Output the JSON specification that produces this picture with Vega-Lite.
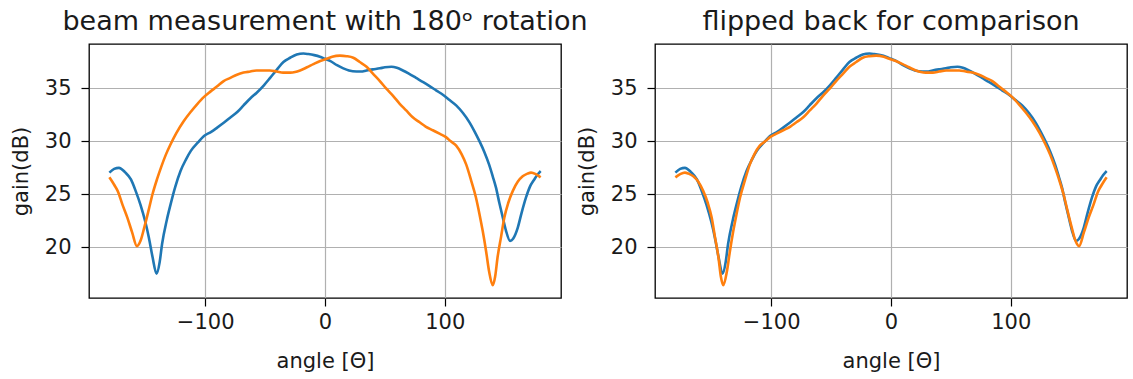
{
  "$schema": "https://vega.github.io/schema/vega-lite/v6.json",
  "background": "white",
  "padding": {"left": 9, "top": 7, "right": 0, "bottom": 0},
  "bounds": "flush",
  "spacing": 94,
  "config": {
    "font": "DejaVu Sans",
    "view": {"stroke": "black", "strokeWidth": 1.3},
    "axis": {
      "domain": false, "grid": true, "gridColor": "#b0b0b0", "gridWidth": 1.2,
      "tickColor": "black", "tickSize": 8, "tickWidth": 1.2,
      "labelFont": "DejaVu Sans", "labelFontSize": 21, "labelColor": "#1a1a1a",
      "titleFont": "DejaVu Sans", "titleFontSize": 21, "titleFontWeight": "normal", "titleColor": "#1a1a1a"
    },
    "axisX": {"labelPadding": 5, "titlePadding": 18},
    "axisY": {"labelPadding": 10, "titlePadding": 13},
    "title": {"font": "DejaVu Sans", "fontSize": 27, "fontWeight": "normal", "color": "#1a1a1a", "offset": 8},
    "line": {"strokeWidth": 2.6, "interpolate": "monotone"}
  },
  "datasets": {
    "blue": [
      {"x":-180,"y":27.05},{"x":-176,"y":27.4},{"x":-172,"y":27.5},{"x":-167,"y":27.1},{"x":-162,"y":26.4},{"x":-158,"y":25.3},{"x":-154,"y":24.0},{"x":-150,"y":22.4},{"x":-147,"y":20.9},{"x":-144,"y":19.1},{"x":-140.6,"y":17.5},{"x":-138,"y":18.6},{"x":-136,"y":20.3},{"x":-132,"y":22.6},{"x":-129,"y":24.0},{"x":-125,"y":25.7},{"x":-120.6,"y":27.2},{"x":-116,"y":28.3},{"x":-112,"y":29.1},{"x":-106,"y":29.9},{"x":-101,"y":30.5},{"x":-95,"y":30.9},{"x":-90,"y":31.3},{"x":-84,"y":31.8},{"x":-79,"y":32.25},{"x":-73,"y":32.8},{"x":-68,"y":33.4},{"x":-62,"y":34.1},{"x":-57,"y":34.6},{"x":-51,"y":35.3},{"x":-45.8,"y":36.0},{"x":-40,"y":36.8},{"x":-34.7,"y":37.5},{"x":-29,"y":37.9},{"x":-23.6,"y":38.2},{"x":-18,"y":38.3},{"x":-13.9,"y":38.25},{"x":-9,"y":38.15},{"x":-4.2,"y":38.0},{"x":0,"y":37.8},{"x":4.2,"y":37.6},{"x":10,"y":37.2},{"x":15.3,"y":36.9},{"x":20,"y":36.7},{"x":26.3,"y":36.6},{"x":30,"y":36.6},{"x":34.7,"y":36.7},{"x":40,"y":36.8},{"x":45.8,"y":36.9},{"x":50,"y":37.0},{"x":55.5,"y":37.05},{"x":60,"y":36.95},{"x":65,"y":36.7},{"x":70,"y":36.4},{"x":76,"y":36.0},{"x":82,"y":35.6},{"x":87,"y":35.25},{"x":93,"y":34.8},{"x":98.4,"y":34.4},{"x":104,"y":33.9},{"x":109.5,"y":33.4},{"x":115,"y":32.7},{"x":120.6,"y":31.8},{"x":125,"y":30.9},{"x":129,"y":30.0},{"x":133,"y":29.0},{"x":137,"y":27.8},{"x":140,"y":26.7},{"x":142.8,"y":25.6},{"x":145.5,"y":24.2},{"x":148.4,"y":22.8},{"x":151,"y":21.6},{"x":154.5,"y":20.6},{"x":157,"y":20.8},{"x":160.8,"y":21.8},{"x":164,"y":23.2},{"x":167.8,"y":24.7},{"x":171,"y":25.7},{"x":174.7,"y":26.4},{"x":177,"y":26.8},{"x":180,"y":27.2}
    ],
    "orange": [
      {"x":-180,"y":26.6},{"x":-176,"y":25.9},{"x":-173,"y":25.3},{"x":-169,"y":24.0},{"x":-165,"y":22.8},{"x":-161,"y":21.4},{"x":-157,"y":20.1},{"x":-154,"y":20.6},{"x":-151,"y":21.8},{"x":-147,"y":23.6},{"x":-144,"y":25.0},{"x":-140,"y":26.5},{"x":-137,"y":27.5},{"x":-133,"y":28.7},{"x":-129,"y":29.7},{"x":-124,"y":30.8},{"x":-118,"y":31.9},{"x":-112,"y":32.8},{"x":-106.8,"y":33.5},{"x":-101,"y":34.2},{"x":-95.7,"y":34.7},{"x":-90,"y":35.2},{"x":-84.6,"y":35.7},{"x":-79,"y":36.0},{"x":-73.5,"y":36.3},{"x":-68,"y":36.5},{"x":-62.4,"y":36.6},{"x":-57,"y":36.7},{"x":-51.3,"y":36.7},{"x":-46,"y":36.7},{"x":-40.2,"y":36.6},{"x":-35,"y":36.5},{"x":-29,"y":36.5},{"x":-25,"y":36.55},{"x":-20.8,"y":36.7},{"x":-15,"y":37.0},{"x":-9.7,"y":37.3},{"x":-4,"y":37.6},{"x":1.4,"y":37.8},{"x":6,"y":38.0},{"x":12.5,"y":38.1},{"x":18,"y":38.05},{"x":23.6,"y":37.9},{"x":29,"y":37.5},{"x":34.7,"y":37.05},{"x":40,"y":36.4},{"x":45.8,"y":35.7},{"x":51,"y":35.0},{"x":56.8,"y":34.3},{"x":62,"y":33.6},{"x":68,"y":32.9},{"x":73,"y":32.3},{"x":79,"y":31.8},{"x":84,"y":31.4},{"x":90,"y":31.05},{"x":96,"y":30.7},{"x":101,"y":30.4},{"x":105,"y":30.0},{"x":109.5,"y":29.6},{"x":114,"y":28.8},{"x":117.9,"y":27.8},{"x":122,"y":26.3},{"x":126,"y":24.7},{"x":129,"y":23.1},{"x":131.7,"y":21.5},{"x":134.5,"y":19.6},{"x":137,"y":17.7},{"x":140,"y":16.4},{"x":142,"y":17.2},{"x":144,"y":19.0},{"x":147,"y":21.0},{"x":149.7,"y":22.8},{"x":153,"y":24.2},{"x":156.7,"y":25.3},{"x":161,"y":26.2},{"x":165,"y":26.7},{"x":169,"y":26.95},{"x":172,"y":27.05},{"x":176,"y":26.9},{"x":180,"y":26.6}
    ],
    "orangeFlipped": [
      {"x":-180,"y":26.6},{"x":-176,"y":26.9},{"x":-172,"y":27.05},{"x":-169,"y":26.95},{"x":-165,"y":26.7},{"x":-161,"y":26.2},{"x":-156.7,"y":25.3},{"x":-153,"y":24.2},{"x":-149.7,"y":22.8},{"x":-147,"y":21.0},{"x":-144,"y":19.0},{"x":-142,"y":17.2},{"x":-140,"y":16.4},{"x":-137,"y":17.7},{"x":-134.5,"y":19.6},{"x":-131.7,"y":21.5},{"x":-129,"y":23.1},{"x":-126,"y":24.7},{"x":-122,"y":26.3},{"x":-117.9,"y":27.8},{"x":-114,"y":28.8},{"x":-109.5,"y":29.6},{"x":-105,"y":30.0},{"x":-101,"y":30.4},{"x":-96,"y":30.7},{"x":-90,"y":31.05},{"x":-84,"y":31.4},{"x":-79,"y":31.8},{"x":-73,"y":32.3},{"x":-68,"y":32.9},{"x":-62,"y":33.6},{"x":-56.8,"y":34.3},{"x":-51,"y":35.0},{"x":-45.8,"y":35.7},{"x":-40,"y":36.4},{"x":-34.7,"y":37.05},{"x":-29,"y":37.5},{"x":-23.6,"y":37.9},{"x":-18,"y":38.05},{"x":-12.5,"y":38.1},{"x":-6,"y":38.0},{"x":-1.4,"y":37.8},{"x":4,"y":37.6},{"x":9.7,"y":37.3},{"x":15,"y":37.0},{"x":20.8,"y":36.7},{"x":25,"y":36.55},{"x":29,"y":36.5},{"x":35,"y":36.5},{"x":40.2,"y":36.6},{"x":46,"y":36.7},{"x":51.3,"y":36.7},{"x":57,"y":36.7},{"x":62.4,"y":36.6},{"x":68,"y":36.5},{"x":73.5,"y":36.3},{"x":79,"y":36.0},{"x":84.6,"y":35.7},{"x":90,"y":35.2},{"x":95.7,"y":34.7},{"x":101,"y":34.2},{"x":106.8,"y":33.5},{"x":112,"y":32.8},{"x":118,"y":31.9},{"x":124,"y":30.8},{"x":129,"y":29.7},{"x":133,"y":28.7},{"x":137,"y":27.5},{"x":140,"y":26.5},{"x":144,"y":25.0},{"x":147,"y":23.6},{"x":151,"y":21.8},{"x":154,"y":20.6},{"x":157,"y":20.1},{"x":161,"y":21.4},{"x":165,"y":22.8},{"x":169,"y":24.0},{"x":173,"y":25.3},{"x":176,"y":25.9},{"x":180,"y":26.6}
    ]
  },
  "hconcat": [
    {
      "width": 472, "height": 254,
      "title": "beam measurement with 180ᵒ rotation",
      "encoding": {
        "x": {"field": "x", "type": "quantitative", "scale": {"domain": [-197, 197], "nice": false, "zero": false}, "axis": {"values": [-100, 0, 100], "format": "d", "title": "angle [Θ]"}},
        "y": {"field": "y", "type": "quantitative", "scale": {"domain": [15.2, 39.2], "nice": false, "zero": false}, "axis": {"values": [20, 25, 30, 35], "format": "d", "title": "gain(dB)"}}
      },
      "layer": [
        {"data": {"name": "blue"}, "mark": {"type": "line", "color": "#1f77b4"}},
        {"data": {"name": "orange"}, "mark": {"type": "line", "color": "#ff7f0e"}}
      ]
    },
    {
      "width": 472, "height": 254,
      "title": "flipped back for comparison",
      "encoding": {
        "x": {"field": "x", "type": "quantitative", "scale": {"domain": [-197, 197], "nice": false, "zero": false}, "axis": {"values": [-100, 0, 100], "format": "d", "title": "angle [Θ]"}},
        "y": {"field": "y", "type": "quantitative", "scale": {"domain": [15.2, 39.2], "nice": false, "zero": false}, "axis": {"values": [20, 25, 30, 35], "format": "d", "title": "gain(dB)"}}
      },
      "layer": [
        {"data": {"name": "blue"}, "mark": {"type": "line", "color": "#1f77b4"}},
        {"data": {"name": "orangeFlipped"}, "mark": {"type": "line", "color": "#ff7f0e"}}
      ]
    }
  ]
}
